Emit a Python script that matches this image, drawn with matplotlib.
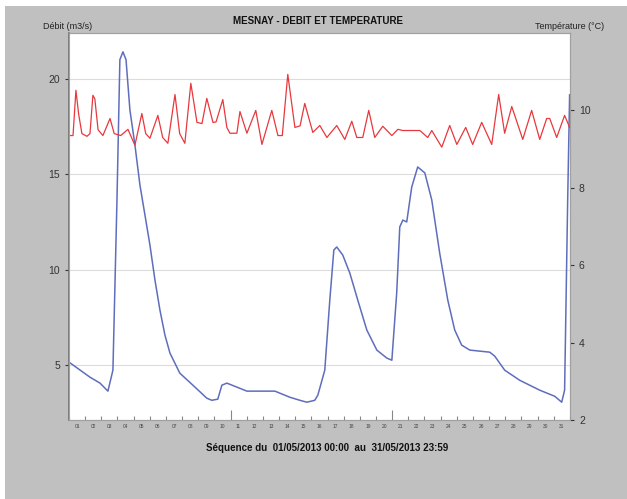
import matplotlib
matplotlib.use("Agg")
import matplotlib.pyplot as plt
import numpy as np
from matplotlib.patches import Rectangle

plt.rcParams['font.family'] = ['Liberation Sans', 'DejaVu Sans']

# Débit (m3/s) : jours depuis le 01/05 00:00, valeur
debit_t = [0.0, 1.30, 1.92, 2.41, 2.72, 2.97, 3.15, 3.34, 3.53, 3.77, 4.08, 4.39,
           4.70, 5.01, 5.32, 5.63, 5.94, 6.25, 6.86, 7.67, 8.53, 8.84, 9.21, 9.46,
           9.77, 10.39, 11.01, 12.74, 13.67, 14.29, 14.72, 15.21, 15.40, 15.83,
           16.14, 16.39, 16.57, 16.94, 17.38, 17.87, 18.43, 19.05, 19.67, 19.98,
           20.28, 20.47, 20.66, 20.90, 21.21, 21.58, 22.02, 22.45, 22.94, 23.44,
           23.87, 24.30, 24.80, 26.04, 26.35, 26.96, 27.89, 29.13, 30.06, 30.49,
           30.67, 30.86, 30.98]
debit_v = [5.16, 4.37, 4.06, 3.64, 4.74, 13.65, 21.0, 21.41, 21.0, 18.37, 16.54, 14.44,
           12.87, 11.29, 9.46, 7.88, 6.57, 5.63, 4.58, 3.95, 3.27, 3.16, 3.22, 3.95,
           4.06, 3.85, 3.64, 3.64, 3.32, 3.16, 3.06, 3.16, 3.43, 4.74,
           8.41, 11.03, 11.19, 10.77, 9.82, 8.41, 6.84, 5.79, 5.37, 5.26,
           8.78, 12.24, 12.60, 12.50, 14.33, 15.38, 15.07, 13.65, 10.87, 8.41,
           6.84, 6.05, 5.79, 5.68, 5.47, 4.74, 4.21, 3.69, 3.37, 3.06,
           3.69, 13.65, 19.16]

# Température (°C)
temp_t = [0.0, 0.25, 0.43, 0.6, 0.8, 1.11, 1.3, 1.48, 1.6, 1.8, 2.1, 2.54, 2.8, 3.2,
          3.65, 4.08, 4.51, 4.75, 5.01, 5.50, 5.8, 6.12, 6.56, 6.85, 7.17, 7.54, 7.92,
          8.23, 8.53, 8.91, 9.1, 9.52, 9.77, 9.96, 10.39, 10.58, 11.01, 11.56, 11.94,
          12.55, 12.93, 13.2, 13.54, 13.98, 14.3, 14.59, 15.09, 15.52, 15.96, 16.57,
          17.07, 17.50, 17.81, 18.18, 18.55, 18.92, 19.42, 19.98, 20.35, 20.66, 21.71,
          22.20, 22.45, 23.07, 23.56, 24.00, 24.55, 24.98, 25.54, 26.16, 26.59, 26.96,
          27.40, 28.08, 28.63, 29.13, 29.56, 29.75, 30.18, 30.67, 30.98]
temp_v = [9.35, 9.35, 10.52, 9.9, 9.4, 9.33, 9.4, 10.39, 10.3, 9.5, 9.35, 9.79, 9.4, 9.35,
          9.51, 9.10, 9.92, 9.4, 9.28, 9.87, 9.3, 9.15, 10.41, 9.4, 9.15, 10.70, 9.69,
          9.66, 10.31, 9.69, 9.7, 10.28, 9.56, 9.41, 9.41, 9.97, 9.41, 10.0, 9.12,
          10.0, 9.35, 9.35, 10.93, 9.56, 9.6, 10.18, 9.43, 9.61, 9.30, 9.61,
          9.25, 9.72, 9.30, 9.30, 10.0, 9.30, 9.59, 9.35, 9.51, 9.48, 9.48,
          9.30, 9.48, 9.05, 9.61, 9.12, 9.56, 9.12, 9.69, 9.12, 10.41, 9.41,
          10.1, 9.25, 10.0, 9.25, 9.79, 9.79, 9.30, 9.87, 9.56]

jours = ['%02d' % j for j in range(1, 32)]

fig = plt.figure(figsize=(6.27, 4.99), dpi=100)
fig.patch.set_facecolor('white')
fig.patches.append(Rectangle((0.008, 0.0), 0.992, 0.988, transform=fig.transFigure,
                             facecolor='#c0c0c0', edgecolor='none', zorder=-10))

ax = fig.add_axes([0.110, 0.158, 0.799, 0.776])
ax.set_facecolor('white')
ax2 = ax.twinx()

ax.plot(debit_t, debit_v, color='#5f6dbd', lw=1.1, zorder=3)
ax2.plot(temp_t, temp_v, color='#e8383d', lw=0.9, zorder=2)

ax.set_xlim(0, 31)
ax.set_ylim(2.12, 22.4)
ax2.set_ylim(2, 12)

ax.set_yticks([5, 10, 15, 20])
ax.grid(axis='y', color='#dcdcdc', lw=0.8)
ax.set_axisbelow(True)
ax2.set_yticks([2, 4, 6, 8, 10])

ax.set_xticks(np.arange(0, 32))
ax.set_xticklabels([])
ax.set_xticks(np.arange(0.5, 31), minor=True)
ax.set_xticklabels(jours, minor=True, fontsize=3.5, color='#444444')
ax.tick_params(axis='x', which='major', direction='in', length=3, color='#888888')
ax.tick_params(axis='x', which='minor', length=0, pad=3)
for i, t in enumerate(ax.xaxis.get_major_ticks()):
    if i in (10, 20):
        t.tick1line.set_markersize(7)

ax.tick_params(axis='y', labelsize=7.5, colors='#333333', length=3)
ax2.tick_params(axis='y', labelsize=7.5, colors='#333333', length=3)

for a in (ax, ax2):
    for s in a.spines.values():
        s.set_color('#a0a0a0')
        s.set_linewidth(0.8)
ax.spines['left'].set_color('#707070')
ax.spines['left'].set_linewidth(1.2)

fig.text(0.507, 0.958, 'MESNAY - DEBIT ET TEMPERATURE', ha='center', va='center',
         fontsize=7, fontweight='bold', color='#111111')
fig.text(0.068, 0.946, 'Débit (m3/s)', ha='left', va='center', fontsize=6.5, color='#222222')
fig.text(0.853, 0.946, 'Température (°C)', ha='left', va='center', fontsize=6.5, color='#222222')
fig.text(0.522, 0.102, 'Séquence du  01/05/2013 00:00  au  31/05/2013 23:59', ha='center',
         va='center', fontsize=7, fontweight='bold', color='#111111')

fig.savefig('out.png', dpi=100, facecolor=fig.get_facecolor())
